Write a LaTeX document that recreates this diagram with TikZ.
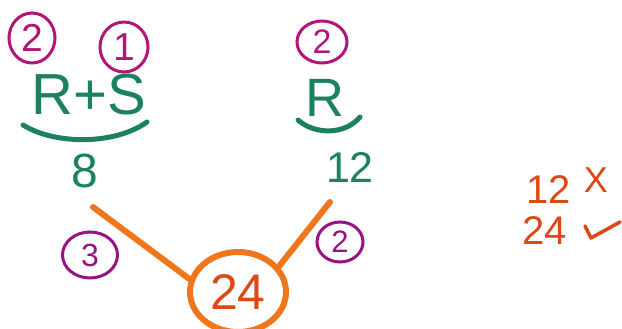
\documentclass[tikz,border=0pt]{standalone}
\usepackage{fontspec}
\setmainfont{Liberation Sans}
\usetikzlibrary{shapes.geometric}
\definecolor{pgreen}{RGB}{28,128,98}
\definecolor{pmag}{RGB}{178,22,118}
\definecolor{ppur}{RGB}{150,20,130}
\definecolor{porange}{RGB}{240,118,28}
\definecolor{pred}{RGB}{222,72,22}
\tikzset{
  circnum/.style={draw=#1, text=#1, ellipse, line width=3pt, inner sep=0pt,
    font=\fontsize{39}{39}\selectfont},
  greentext/.style={text=pgreen, inner sep=0pt},
  bracestyle/.style={draw=pgreen, line width=5pt, line cap=round},
  orangeline/.style={draw=porange, line width=6pt, line cap=round},
  redtext/.style={text=pred, inner sep=0pt, font=\fontsize{40}{40}\selectfont},
}
\begin{document}
\begin{tikzpicture}[x=1pt,y=-1pt]
\useasboundingbox (0,0) rectangle (622,329);
\fill[white] (0,0) rectangle (622,329);
% circled numbers top
\node[circnum=pmag, minimum width=46, minimum height=50] (c2a) at (32,38) {2};
\node[circnum=pmag, minimum width=48, minimum height=50] (c1) at (124,47) {1};
\node[circnum=pmag, minimum width=50, minimum height=42, font=\fontsize{34}{34}\selectfont] (c2b) at (322,42) {2};
% R+S
\node[greentext, font=\fontsize{58}{58}\selectfont] (rs) at (89,95) {R+S};
\coordinate (b1l) at (23,125);
\coordinate (b1r) at (147,122);
\draw[bracestyle] (b1l) .. controls (55,145) and (115,145) .. (b1r);
\node[greentext, font=\fontsize{48}{48}\selectfont] (n8) at (85,171) {8};
% R
\node[greentext, font=\fontsize{54}{54}\selectfont] (r) at (325,98) {R};
\coordinate (b2l) at (298,120);
\coordinate (b2r) at (360,117);
\draw[bracestyle] (b2l) .. controls (315,135) and (345,135) .. (b2r);
\node[greentext, font=\fontsize{43}{43}\selectfont] (n12) at (350,167) {12};
% 24 circle
\node[draw=porange, text=pred, ellipse, line width=6pt, minimum width=96, minimum height=80,
  inner sep=0pt, font=\fontsize{50}{50}\selectfont] (c24) at (238,292) {24};
\coordinate (l1) at (93,207);
\coordinate (l2) at (330,202);
\draw[orangeline] (l1) -- (c24.165);
\draw[orangeline] (l2) -- (c24.32);
% lower circled numbers
\node[circnum=ppur, minimum width=55, minimum height=46, font=\fontsize{32}{32}\selectfont] (c3) at (90,255) {3};
\node[circnum=ppur, minimum width=46, minimum height=40, font=\fontsize{31}{31}\selectfont] (c2c) at (340,242) {2};
% right side
\node[redtext, anchor=west] (t12) at (526,190) {12};
\node[redtext, font=\fontsize{36}{36}\selectfont] (tx) at (596,180) {X};
\node[redtext, anchor=west, font=\fontsize{40}{40}\selectfont] (t24) at (522,231) {24};
\coordinate (ck1) at (585,226);
\coordinate (ck2) at (591,238);
\coordinate (ck3) at (620,222);
\draw[draw=pred, line width=3.5pt, line cap=round, line join=round] (ck1) -- (ck2) -- (ck3);
\end{tikzpicture}
\end{document}
